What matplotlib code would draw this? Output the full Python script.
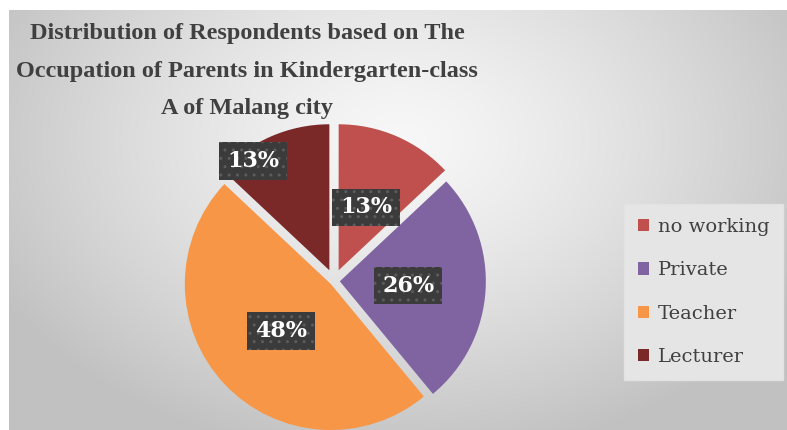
import matplotlib.pyplot as plt
import numpy as np

# --- data ---
categories = ["no working", "Private", "Teacher", "Lecturer"]
shares = [13, 26, 48, 13]
colors = ["#c0504d", "#8064a2", "#f79646", "#7a2828"]
explode = [0.08, 0.04, 0.03, 0.08]

W, H = 787, 430
fig = plt.figure(figsize=(W / 100, H / 100), dpi=100)
fig.patch.set_facecolor("white")

# gray radial gradient panel behind everything
bg = fig.add_axes([9 / W, 0, (W - 9) / W, (H - 10) / H])
bg.set_axis_off()
yy, xx = np.mgrid[0:420, 0:778]
d = np.sqrt(((xx - 390) / 470.0) ** 2 + ((yy - 130) / 330.0) ** 2)
shade = np.clip(0.97 - 0.22 * d ** 1.3, 0.76, 0.97)
bg.imshow(np.dstack([shade] * 3), aspect="auto", interpolation="bilinear")

# pie axes: centre (334, 281) px, radius 146 px
cx, cy, r = 334, 281, 146
half = 175
ax = fig.add_axes([(cx - half) / W, (H - cy - half) / H, 2 * half / W, 2 * half / H])
ax.set_axis_off()

wedges, texts, autotexts = ax.pie(
    shares, colors=colors, explode=explode, startangle=90, counterclock=False,
    autopct=lambda p: f"{p:.0f}%", pctdistance=0.47,
    wedgeprops=dict(linewidth=0),
    textprops=dict(color="white", fontsize=16, fontweight="bold", family="DejaVu Serif"),
)
ax.set_xlim(-half / r, half / r)
ax.set_ylim(-half / r, half / r)

for t in autotexts:
    t.set_bbox(dict(boxstyle="square,pad=0.35", facecolor="#3b3b3b", edgecolor="#5c5c5c",
                    hatch="..", linewidth=0))

# Lecturer label pushed out to the rim (as in the original)
ang = np.deg2rad(124)
autotexts[3].set_position((0.99 * np.cos(ang), 0.99 * np.sin(ang)))

fig.text(247 / W, 1 - 71 / H,
         "Distribution of Respondents based on The\n"
         "Occupation of Parents in Kindergarten-class\n"
         "A of Malang city",
         ha="center", va="center", fontsize=17.5, fontweight="bold",
         family="Liberation Serif", color="#404040", linespacing=2.02)

leg = fig.legend(wedges, categories, loc="center left",
                 bbox_to_anchor=(624 / W, 1 - 292 / H), borderaxespad=0,
                 prop=dict(family="DejaVu Serif", size=14),
                 handlelength=0.6, handleheight=0.6, handletextpad=0.45,
                 labelspacing=1.3, borderpad=0.7, fancybox=False,
                 frameon=True, facecolor="#e5e5e5", edgecolor="#e2e2e2",
                 framealpha=1)
for t in leg.get_texts():
    t.set_color("#404040")

fig.savefig("out.png", dpi=100)
